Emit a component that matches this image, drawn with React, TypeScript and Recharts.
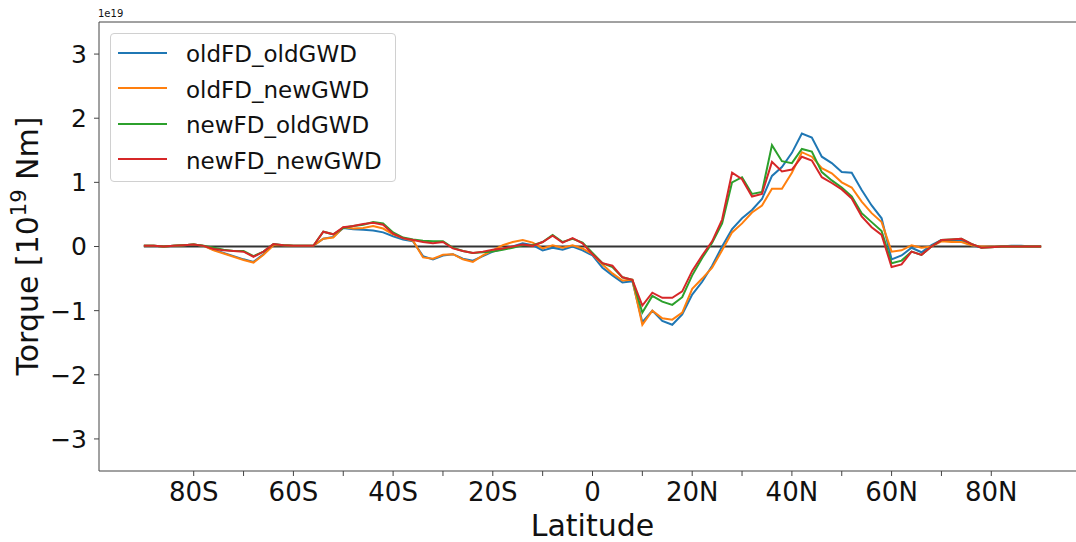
import React from "react";
import { LineChart, Line, XAxis, YAxis, ReferenceLine, Legend } from "recharts";

// latitude grid, 2 degree steps
const latitudes = [
  -90, -88, -86, -84, -82, -80, -78, -76, -74, -72,
  -70, -68, -66, -64, -62, -60, -58, -56, -54, -52,
  -50, -48, -46, -44, -42, -40, -38, -36, -34, -32,
  -30, -28, -26, -24, -22, -20, -18, -16, -14, -12,
  -10, -8, -6, -4, -2, 0, 2, 4, 6, 8,
  10, 12, 14, 16, 18, 20, 22, 24, 26, 28,
  30, 32, 34, 36, 38, 40, 42, 44, 46, 48,
  50, 52, 54, 56, 58, 60, 62, 64, 66, 68,
  70, 72, 74, 76, 78, 80, 82, 84, 86, 88,
  90,
];

// torque in units of 1e19 N m
const oldFDoldGWD = [
  0.01, 0.01, 0.0, 0.01, 0.02, 0.03, 0.01, -0.05, -0.1, -0.15,
  -0.2, -0.24, -0.12, 0.03, 0.02, 0.01, 0.01, 0.01, 0.12, 0.15,
  0.29, 0.27, 0.26, 0.25, 0.22, 0.16, 0.11, 0.08, -0.15, -0.2,
  -0.14, -0.12, -0.19, -0.22, -0.15, -0.08, -0.04, 0.0, 0.05, 0.02,
  -0.06, -0.02, -0.05, 0.0, -0.06, -0.14, -0.33, -0.45, -0.56, -0.54,
  -1.18, -1.0, -1.16, -1.22, -1.06, -0.75, -0.55, -0.3, 0.0, 0.27,
  0.44, 0.57, 0.74, 1.1, 1.24, 1.46, 1.76, 1.7, 1.4, 1.3,
  1.16, 1.15, 0.88, 0.64, 0.44, -0.2, -0.14, -0.02, -0.09, 0.02,
  0.1, 0.1, 0.09, 0.02, -0.01, 0.0, 0.0, 0.01, 0.01, 0.0,
  0.0,
];

const oldFDnewGWD = [
  0.01, 0.01, 0.0, 0.01, 0.02, 0.03, 0.01, -0.06, -0.11, -0.16,
  -0.21, -0.25, -0.13, 0.02, 0.02, 0.01, 0.01, 0.01, 0.12, 0.14,
  0.3, 0.28, 0.29, 0.32, 0.28, 0.19, 0.13, 0.09, -0.17, -0.19,
  -0.13, -0.12, -0.2, -0.24, -0.14, -0.06, 0.02, 0.07, 0.1, 0.06,
  -0.03, 0.02, -0.02, 0.02, -0.03, -0.12, -0.28, -0.42, -0.53, -0.52,
  -1.22, -1.0, -1.12, -1.14, -1.03, -0.66, -0.5, -0.33, -0.06, 0.22,
  0.36, 0.53, 0.64, 0.9, 0.9, 1.15, 1.47, 1.4, 1.22, 1.14,
  1.0, 0.92, 0.7, 0.52, 0.38, -0.08, -0.06, 0.02, -0.02, 0.0,
  0.08, 0.07, 0.07, 0.02, 0.0, 0.0, 0.0, 0.0, 0.0, 0.0,
  0.0,
];

const newFDoldGWD = [
  0.01, 0.01, 0.0, 0.01, 0.02, 0.03, 0.01, -0.02, -0.05, -0.07,
  -0.07, -0.15, -0.08, 0.04, 0.02, 0.01, 0.01, 0.01, 0.23, 0.19,
  0.29, 0.32, 0.34, 0.38, 0.36, 0.22, 0.14, 0.11, 0.09, 0.08,
  0.08, -0.02, -0.07, -0.1, -0.09, -0.08, -0.05, -0.02, 0.02, 0.02,
  0.07, 0.18, 0.07, 0.12, 0.06, -0.1, -0.26, -0.32, -0.48, -0.52,
  -1.03, -0.77, -0.86, -0.91, -0.79, -0.45, -0.18, 0.06, 0.36, 1.0,
  1.08, 0.82, 0.85, 1.58, 1.33, 1.3, 1.52, 1.48, 1.16, 1.03,
  0.92, 0.78, 0.52, 0.38, 0.24, -0.26, -0.22, -0.08, -0.13, 0.0,
  0.1, 0.11, 0.12, 0.04, -0.02, -0.01, 0.0, 0.0, 0.0, 0.0,
  0.0,
];

const newFDnewGWD = [
  0.01, 0.01, 0.0, 0.01, 0.02, 0.03, 0.01, -0.04, -0.06, -0.07,
  -0.08, -0.16, -0.08, 0.04, 0.02, 0.01, 0.01, 0.01, 0.23, 0.19,
  0.3, 0.32, 0.35, 0.37, 0.34, 0.2, 0.13, 0.1, 0.07, 0.05,
  0.07, -0.03, -0.07, -0.1, -0.08, -0.05, -0.03, 0.0, 0.03, 0.01,
  0.07, 0.17, 0.06, 0.13, 0.05, -0.12, -0.26, -0.3, -0.48, -0.52,
  -0.92, -0.72, -0.8, -0.8, -0.7, -0.38, -0.14, 0.08, 0.42, 1.15,
  1.05, 0.78, 0.82, 1.32, 1.17, 1.2, 1.4, 1.34, 1.08, 0.99,
  0.89, 0.75, 0.47, 0.3, 0.18, -0.32, -0.28, -0.08, -0.13, 0.0,
  0.1, 0.11, 0.12, 0.04, -0.02, -0.01, 0.0, 0.0, 0.0, 0.0,
  0.0,
];

const seriesNames = ["oldFD_oldGWD", "oldFD_newGWD", "newFD_oldGWD", "newFD_newGWD"];
const seriesColors = ["#1f77b4", "#ff7f0e", "#2ca02c", "#d62728"];
const seriesValues = [oldFDoldGWD, oldFDnewGWD, newFDoldGWD, newFDnewGWD];

const xTicks = [-80, -70, -60, -50, -40, -30, -20, -10, 0, 10, 20, 30, 40, 50, 60, 70, 80];
const yTicks = [-3, -2, -1, 0, 1, 2, 3];

const data = latitudes.map((lat, i) => {
  const row: Record<string, number> = { lat };
  seriesNames.forEach((name, s) => {
    row[name] = seriesValues[s][i];
  });
  return row;
});

const FONT = "DejaVu Sans, sans-serif";

const formatLat = (v: number) => {
  if (v % 20 !== 0) return "";
  if (v < 0) return `${-v}S`;
  if (v > 0) return `${v}N`;
  return "0";
};

const formatTorque = (v: number) => (v < 0 ? `\u2212${-v}` : `${v}`);

const XLabel = ({ viewBox }: any) => (
  <text x={viewBox.x + viewBox.width / 2} y={536} textAnchor="middle" fontSize={30} fontFamily={FONT} fill="#111">
    Latitude
  </text>
);

const YLabel = () => (
  <text x={38} y={246} transform="rotate(-90, 38, 246)" textAnchor="middle" fontSize={30} fontFamily={FONT} fill="#111">
    Torque [10
    <tspan dy={-12} fontSize={21}>19</tspan>
    <tspan dy={12}> Nm]</tspan>
  </text>
);

const LegendBox = () => (
  <div
    style={{
      width: 284,
      height: 146,
      border: "1px solid #d0d0d0",
      borderRadius: 4,
      background: "rgba(255,255,255,0.85)",
      fontFamily: FONT,
      fontSize: 23,
      color: "#111",
      paddingTop: 1,
      boxSizing: "content-box",
    }}
  >
    {seriesNames.map((name, i) => (
      <div key={name} style={{ display: "flex", alignItems: "center", height: 35.5 }}>
        <div style={{ width: 49, height: 2, marginLeft: 7, background: seriesColors[i] }} />
        <span style={{ marginLeft: 19, paddingTop: 4, lineHeight: 1 }}>{name}</span>
      </div>
    ))}
  </div>
);

export default function App() {
  return (
    <div style={{ position: "fixed", left: 0, top: 0, width: 1076, height: 542, overflow: "hidden", background: "#fff" }}>
      <div style={{ position: "absolute", left: 98, top: 8, fontFamily: FONT, fontSize: 10, color: "#111" }}>1e19</div>
      <LineChart width={1100} height={542} data={data} margin={{ top: 22, right: 14, bottom: 0, left: 0 }}>
        <XAxis
          dataKey="lat"
          type="number"
          domain={[-99, 99]}
          ticks={xTicks}
          interval={0}
          tickFormatter={formatLat}
          height={71}
          tickSize={5}
          tickMargin={7}
          stroke="#444"
          tick={{ fontSize: 26, fontFamily: FONT, fill: "#111" }}
          label={<XLabel />}
        />
        <YAxis
          type="number"
          domain={[-3.5, 3.5]}
          ticks={yTicks}
          interval={0}
          tickFormatter={formatTorque}
          width={99}
          tickSize={5}
          tickMargin={7}
          stroke="#444"
          tick={{ fontSize: 25, fontFamily: FONT, fill: "#111" }}
          label={<YLabel />}
        />
        <ReferenceLine y={3.5} stroke="#444" strokeWidth={1} />
        <ReferenceLine
          segment={[{ x: -90, y: 0 }, { x: 90, y: 0 }]}
          stroke="#333"
          strokeWidth={2}
        />
        {seriesNames.map((name, i) => (
          <Line
            key={name}
            dataKey={name}
            name={name}
            stroke={seriesColors[i]}
            strokeWidth={2}
            dot={false}
            isAnimationActive={false}
            type="linear"
          />
        ))}
        <Legend
          layout="horizontal"
          align="center"
          verticalAlign="middle"
          wrapperStyle={{ left: 110, top: 33, width: 286 }}
          content={<LegendBox />}
        />
      </LineChart>
    </div>
  );
}
